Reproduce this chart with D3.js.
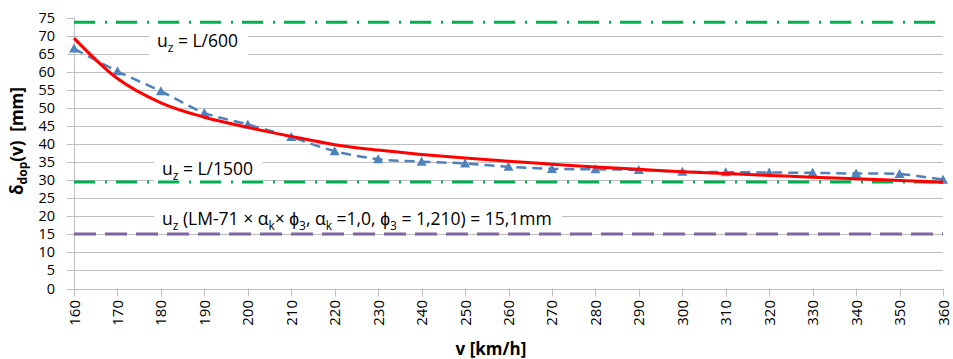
<!DOCTYPE html>
<html>
<head>
<meta charset="utf-8">
<script src="https://cdn.jsdelivr.net/npm/d3@7"></script>
<style>
  body { margin: 0; background: #fff; }
  text { font-family: "Open Sans", sans-serif; fill: #000; }
</style>
</head>
<body>
<svg id="chart" width="953" height="359"></svg>
<script>
// speeds [km/h]
var speeds = [160,170,180,190,200,210,220,230,240,250,260,270,280,290,300,310,320,330,340,350,360];
// measured deflection (blue triangles)
var measured = [66.4,60.1,54.6,48.6,45.4,41.9,38.0,35.8,35.1,34.6,33.7,33.1,33.0,32.8,32.3,32.2,32.1,32.0,31.8,31.7,30.1];
// fitted curve (red)
var fitted = [69.3,58.1,51.4,47.4,44.6,42.1,39.8,38.3,37.1,36.1,35.2,34.4,33.6,33.0,32.3,31.8,31.3,30.8,30.4,29.9,29.4];
// limit lines
var limitL600 = 73.7;
var limitL1500 = 29.5;
var limitLM71 = 15.1;
var yTicks = d3.range(0, 80, 5);

var svg = d3.select("#chart");
var x = d3.scaleLinear().domain([160, 360]).range([74, 943]);
var y = d3.scaleLinear().domain([0, 75]).range([288.5, 17.5]);
var grid = "#bfbfbf";

// horizontal gridlines + y ticks
svg.append("g").selectAll("line").data(yTicks).join("line")
  .attr("x1", 67).attr("x2", function(d) { return d == 75 ? 74 : 943; })
  .attr("y1", function(d) { return Math.round(y(d)) + 0.5; })
  .attr("y2", function(d) { return Math.round(y(d)) + 0.5; })
  .attr("stroke", grid).attr("stroke-width", 1);

// axis line
svg.append("line").attr("x1", 74.5).attr("x2", 74.5).attr("y1", y(75)).attr("y2", y(0))
  .attr("stroke", grid);
svg.append("g").selectAll("line").data(speeds).join("line")
  .attr("x1", function(d) { return Math.round(x(d)) + 0.5; })
  .attr("x2", function(d) { return Math.round(x(d)) + 0.5; })
  .attr("y1", y(0)).attr("y2", y(0) + 8)
  .attr("stroke", grid);

// y labels
svg.append("g").selectAll("text").data(yTicks).join("text")
  .attr("x", 55).attr("y", function(d) { return y(d) + 5; })
  .attr("text-anchor", "end").attr("font-size", 14.5)
  .text(function(d) { return d; });

// x labels
svg.append("g").selectAll("text").data(speeds).join("text")
  .attr("transform", function(d) { return "translate(" + (x(d) + 5.5) + ",300) rotate(-90)"; })
  .attr("text-anchor", "end").attr("font-size", 15)
  .text(function(d) { return d; });

// axis titles
var yt = svg.append("text")
  .attr("transform", "translate(23,141) rotate(-90)")
  .attr("text-anchor", "middle").attr("font-size", 17).attr("font-weight", "bold");
yt.append("tspan").text("δ");
yt.append("tspan").attr("font-size", 12).attr("dy", 4).text("dop");
yt.append("tspan").attr("dy", -4).text("(v)\u00a0\u00a0[mm]");

svg.append("text").attr("x", 491).attr("y", 355)
  .attr("text-anchor", "middle").attr("font-size", 17).attr("font-weight", "bold")
  .text("v [km/h]");

// annotations with white boxes
function label(px, py, parts) {
  var g = svg.append("g");
  var box = g.append("rect").attr("fill", "#fff");
  var t = g.append("text").attr("x", px).attr("y", py).attr("font-size", 17.5);
  var shift = 0;
  parts.forEach(function(p) {
    var s = t.append("tspan");
    if (p.sub) {
      s.attr("font-size", 12).attr("dy", 5 - shift).text(p.sub);
      shift = 5;
    } else {
      s.attr("dy", -shift).text(p.t);
      shift = 0;
    }
  });
  var b = t.node().getBBox();
  box.attr("x", b.x - 8).attr("y", b.y - 2).attr("width", b.width + 18).attr("height", b.height + 2);
}
label(157, 47, [{t: "u"}, {sub: "z"}, {t: " = L/600"}]);
label(162, 175, [{t: "u"}, {sub: "z"}, {t: " = L/1500"}]);
label(162, 225, [{t: "u"}, {sub: "z"}, {t: " (LM-71 × α"}, {sub: "k"}, {t: "× ϕ"}, {sub: "3"},
  {t: ", α"}, {sub: "k"}, {t: " =1,0, ϕ"}, {sub: "3"}, {t: " = 1,210) = 15,1mm"}]);

// limit lines
function hline(v, color, dash) {
  svg.append("line").attr("x1", x(160)).attr("x2", x(360))
    .attr("y1", y(v)).attr("y2", y(v))
    .attr("stroke", color).attr("stroke-width", 3).attr("stroke-dasharray", dash);
}
hline(limitL600, "#00b050", "21,10,2,9");
hline(limitL1500, "#00b050", "21,10,2,9");
hline(limitLM71, "#8064a2", "22,9");

// measured series
var pts = speeds.map(function(s, i) { return [s, measured[i]]; });
svg.append("path").datum(pts)
  .attr("d", d3.line().x(function(d) { return x(d[0]); }).y(function(d) { return y(d[1]); })
    .curve(d3.curveCatmullRom))
  .attr("fill", "none").attr("stroke", "#4f81bd").attr("stroke-width", 2.5)
  .attr("stroke-dasharray", "10,6");
svg.append("g").selectAll("path").data(pts).join("path")
  .attr("transform", function(d) { return "translate(" + x(d[0]) + "," + y(d[1]) + ")"; })
  .attr("d", "M0,-5L5,4L-5,4Z")
  .attr("fill", "#4f81bd");

// fitted curve
var fit = speeds.map(function(s, i) { return [s, fitted[i]]; });
svg.append("path").datum(fit)
  .attr("d", d3.line().x(function(d) { return x(d[0]); }).y(function(d) { return y(d[1]); })
    .curve(d3.curveMonotoneX))
  .attr("fill", "none").attr("stroke", "#ff0000").attr("stroke-width", 3);
</script>
</body>
</html>
